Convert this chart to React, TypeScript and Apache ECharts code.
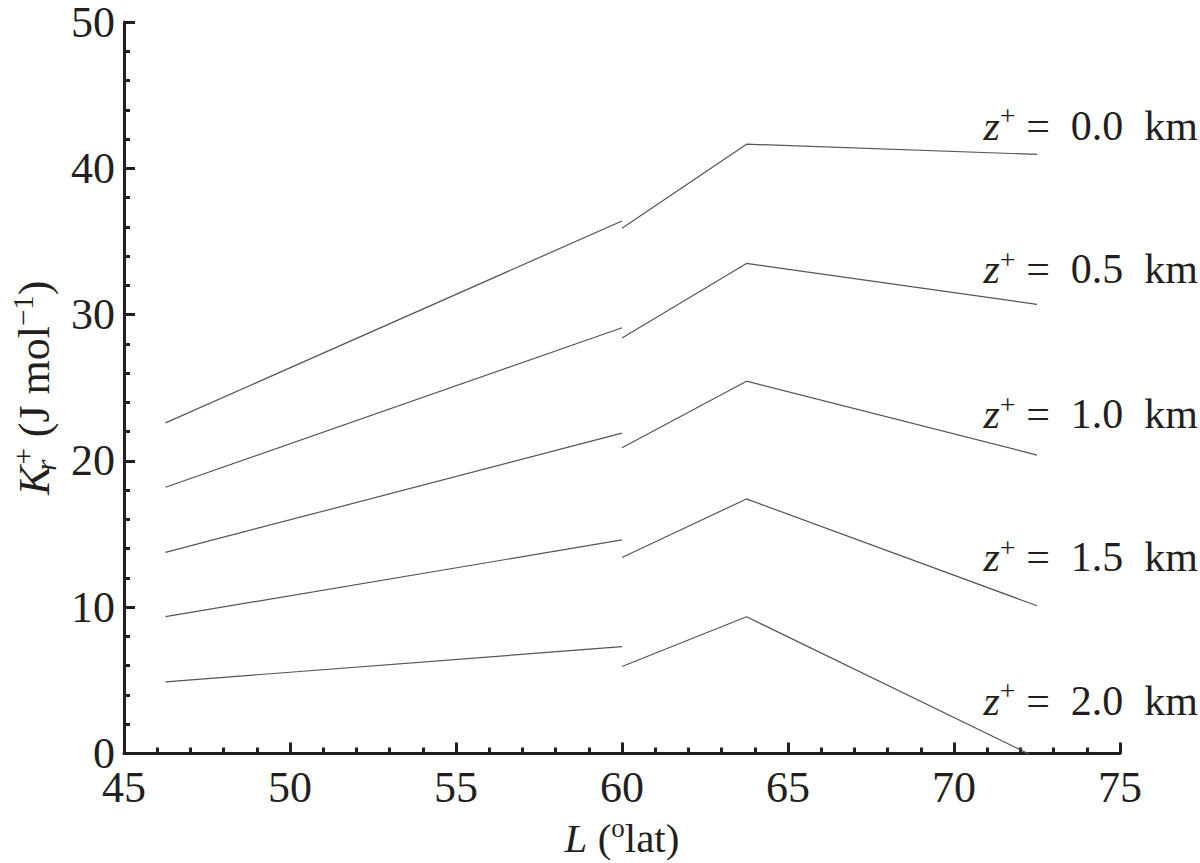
import React, { useEffect, useRef } from "react";
import * as echarts from "echarts";

// ---- data ----
const levels = ["0.0", "0.5", "1.0", "1.5", "2.0"]; // z+ (km)
const xStart = 46.25;
const xBreak = 60;
const xPeak = 63.75;
const xEnd = 72.5;
const startVals = [22.6, 18.2, 13.75, 9.35, 4.9];
const breakLeftVals = [36.4, 29.1, 21.9, 14.6, 7.3];
const breakRightVals = [35.9, 28.4, 20.9, 13.4, 5.95];
const peakVals = [41.65, 33.5, 25.45, 17.4, 9.35];
const endVals = [40.95, 30.7, 20.4, 10.1, -0.3];
// y value at which each z+ label sits
const labelVals = [42.9, 33.1, 23.2, 13.4, 3.6];

const FONT = "Liberation Serif, serif";
const INK = "#231f20";
const LINE = "#555555";

export default function App() {
  const ref = useRef<HTMLDivElement>(null);

  useEffect(() => {
    if (!ref.current) return;
    const chart = echarts.init(ref.current, undefined, { renderer: "svg" });

    const series: any[] = [];
    levels.forEach((_, i) => {
      series.push({
        type: "line",
        data: [
          [xStart, startVals[i]],
          [xBreak, breakLeftVals[i]],
        ],
        symbol: "none",
        silent: true,
        lineStyle: { color: LINE, width: 1.2 },
      });
      series.push({
        type: "line",
        data: [
          [xBreak, breakRightVals[i]],
          [xPeak, peakVals[i]],
          [xEnd, endVals[i]],
        ],
        symbol: "none",
        silent: true,
        clip: true,
        lineStyle: { color: LINE, width: 1.2 },
      });
    });

    const axisCommon = {
      type: "value",
      axisLine: { show: true, lineStyle: { color: INK, width: 3 } },
      axisTick: { show: true, inside: true, length: 11, lineStyle: { color: INK, width: 3 } },
      minorTick: { show: true, splitNumber: 5, length: 6, lineStyle: { color: INK, width: 3 } },
      splitLine: { show: false },
      minorSplitLine: { show: false },
    };

    chart.setOption({
      animation: false,
      backgroundColor: "#ffffff",
      grid: { left: 119, right: 80, top: 15, bottom: 100, containLabel: false },
      xAxis: {
        ...axisCommon,
        min: 45,
        max: 75,
        interval: 5,
        axisLabel: { color: INK, fontFamily: FONT, fontSize: 44, margin: 12 },
        name: "{i|L}{n| (}{s|o}{n|lat)}",
        nameLocation: "middle",
        nameGap: 61,
        nameTextStyle: {
          rich: {
            i: { fontFamily: FONT, fontStyle: "italic", fontSize: 41, color: INK, lineHeight: 46 },
            n: { fontFamily: FONT, fontSize: 41, color: INK, lineHeight: 46 },
            s: { fontFamily: FONT, fontSize: 27, color: INK, lineHeight: 26, verticalAlign: "top" },
          },
        },
      },
      yAxis: {
        ...axisCommon,
        min: 0,
        max: 50,
        interval: 10,
        axisLabel: { color: INK, fontFamily: FONT, fontSize: 44, margin: 9 },
        name: "{i|K}{b|r}{s|+}{n| (J mol}{s|−1}{n|)}",
        nameLocation: "middle",
        nameRotate: 90,
        nameGap: 64,
        nameTextStyle: {
          rich: {
            i: { fontFamily: FONT, fontStyle: "italic", fontSize: 44, color: INK, lineHeight: 52 },
            n: { fontFamily: FONT, fontSize: 44, color: INK, lineHeight: 52 },
            b: { fontFamily: FONT, fontStyle: "italic", fontSize: 29, color: INK, lineHeight: 27, verticalAlign: "bottom", width: 1 },
            s: { fontFamily: FONT, fontSize: 29, color: INK, lineHeight: 27, verticalAlign: "top" },
          },
        },
      },
      series,
    });

    const graphic = levels.map((lv, i) => {
      const py = chart.convertToPixel({ yAxisIndex: 0 }, labelVals[i]) as number;
      return {
        type: "text",
        right: 2,
        y: py,
        silent: true,
        style: {
          text: `{i|z}{s|+}{n| =  ${lv}  km}`,
          align: "right",
          verticalAlign: "middle",
          rich: {
            i: { fontFamily: FONT, fontStyle: "italic", fontSize: 42, fill: INK, lineHeight: 48 },
            n: { fontFamily: FONT, fontSize: 42, fill: INK, lineHeight: 48 },
            s: { fontFamily: FONT, fontSize: 28, fill: INK, lineHeight: 26, verticalAlign: "top" },
          },
        },
      };
    });
    chart.setOption({ graphic });

    return () => chart.dispose();
  }, []);

  return (
    <div
      ref={ref}
      style={{ position: "fixed", left: 0, top: 0, width: 1200, height: 863, background: "#fff" }}
    />
  );
}
